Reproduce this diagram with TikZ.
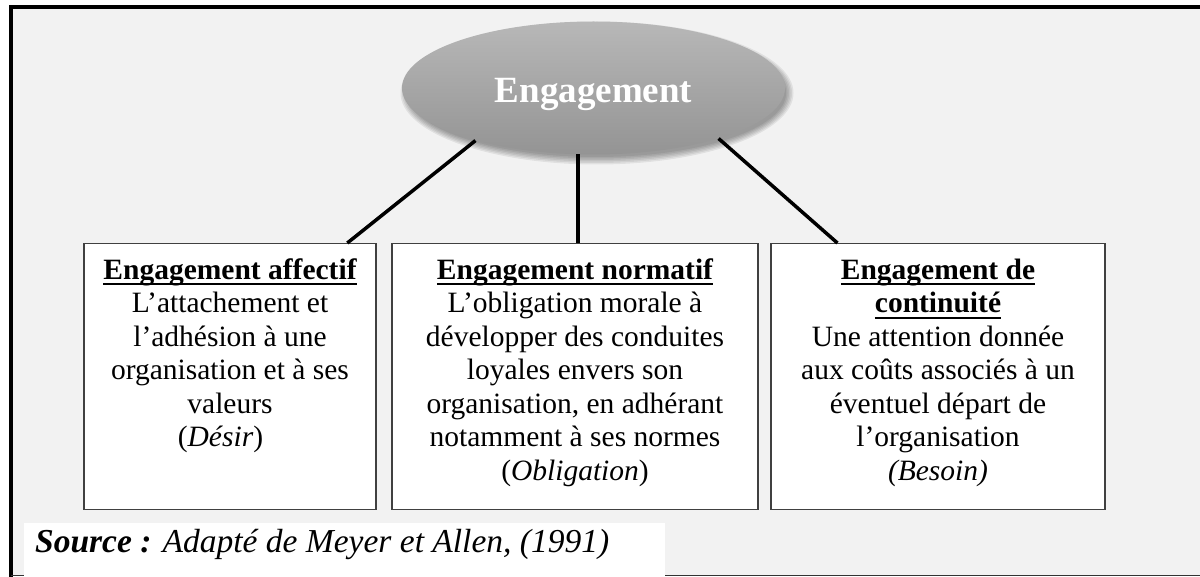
\documentclass[tikz,border=0pt]{standalone}
\usepackage{fontspec}
\setmainfont{Liberation Serif}[Ligatures=CommonOff]
\usetikzlibrary{shapes.geometric, calc, positioning}

% soulignement des titres
\newsavebox{\titrebox}
\newcommand{\souligne}[1]{\sbox{\titrebox}{#1}%
  \rlap{\rule[-6pt]{\wd\titrebox}{2pt}}\usebox{\titrebox}}

\begin{document}
\begin{tikzpicture}[x=1pt, y=-1pt,
  cadre/.style={draw=black!75, line width=1.3pt, fill=white, minimum width=#1,
    minimum height=266pt, inner sep=0pt, anchor=north},
  texte/.style={align=center, inner sep=0pt, font=\fontsize{29.5}{33.5}\selectfont},
  lien/.style={line width=3.5pt}]
\useasboundingbox (0,0) rectangle (1200,577);
\fill[white] (0,0) rectangle (1200,577);

% fond et bordure
\fill[black!5] (11,7) rectangle (1200,575);
\draw[line width=4pt] (11,577) -- (11,7) -- (1200,7);
\draw[line width=1pt, black!80] (11,575) -- (1200,575);

% ombre floue de l'ellipse
\foreach \r in {0,1.5,...,7.5}
  \fill[black, opacity=0.07] (597,93) ellipse ({189+\r} and {64+\r});

% ellipse centrale
\node[ellipse, minimum width=383pt, minimum height=133pt, inner sep=0pt,
  top color=black!28, bottom color=black!42,
  text=white, font=\fontsize{37}{40}\selectfont\bfseries,
  text height=37pt, text depth=8pt] (eng) at (593.5,88) {Engagement};

% les trois cadres
\node[cadre=292pt] (affectif) at (230,243) {};
\node[cadre=366pt] (normatif) at (575,243) {};
\node[cadre=334pt] (continuite) at (938,243) {};

\node[texte, below=15.5pt of affectif.north] (affectif-t)
  {\textbf{\souligne{Engagement affectif}}\\ L’attachement et\\ l’adhésion à une\\
   organisation et à ses\\ valeurs\\ (\textit{Désir})\hspace*{19pt}};
\node[texte, below=15.5pt of normatif.north] (normatif-t)
  {\textbf{\souligne{Engagement normatif}}\\ L’obligation morale à\\ développer des conduites\\
   loyales envers son\\ organisation, en adhérant\\ notamment à ses normes\\ (\textit{Obligation})};
\node[texte, below=15.5pt of continuite.north] (continuite-t)
  {\textbf{\souligne{Engagement de}}\\ \textbf{\souligne{continuité}}\\ Une attention donnée\\
   aux coûts associés à un\\ éventuel départ de\\ l’organisation\\ \textit{(Besoin)}};

% liens
\draw[lien] (eng.204.5) -- ($(affectif.north west)!0.9!(affectif.north east)$);
\draw[lien] (eng.257) -- (eng.257 |- normatif.north);
\draw[lien] (eng.338) -- ($(continuite.north west)!0.2!(continuite.north east)$);

% source
\fill[white] (24,523) rectangle (665,577);
\node[anchor=base west, inner sep=0pt, font=\fontsize{33.5}{38}\selectfont\itshape] (source)
  at (35,552) {\textbf{Source :} Adapté de Meyer et Allen, (1991)};
\end{tikzpicture}
\end{document}
